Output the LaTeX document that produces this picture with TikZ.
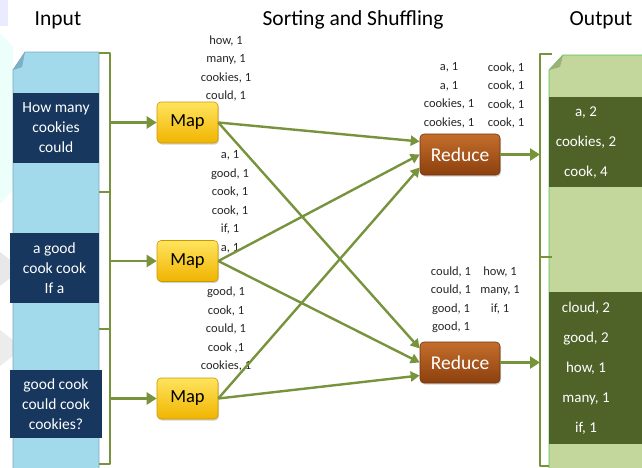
\documentclass[tikz,border=0pt]{standalone}
\usepackage{fontspec}
\setmainfont{Carlito}
\usetikzlibrary{arrows.meta,calc,shadows}

\definecolor{linegreen}{HTML}{77933C}
\definecolor{docblue}{HTML}{A2D9EB}
\definecolor{docblueedge}{HTML}{7FA8C0}
\definecolor{foldblue}{HTML}{7DAFC6}
\definecolor{navy}{HTML}{17375E}
\definecolor{docgreen}{HTML}{C3D69B}
\definecolor{docgreenedge}{HTML}{55C553}
\definecolor{foldgreen}{HTML}{9DB07A}
\definecolor{olive}{HTML}{4F6228}
\definecolor{labelgrey}{HTML}{262626}
\definecolor{maptop}{HTML}{FFE45E}
\definecolor{mapmid}{HTML}{FFCC00}
\definecolor{mapbot}{HTML}{F0B400}
\definecolor{mapedge}{HTML}{C99A00}
\definecolor{redtop}{HTML}{C46E2C}
\definecolor{redmid}{HTML}{A34F14}
\definecolor{redbot}{HTML}{8C400E}
\definecolor{reduceedge}{HTML}{6E340A}

\tikzset{
  heading/.style={font=\fontsize{21.5}{24}\selectfont, text=black, inner sep=0pt},
  inbox/.style={fill=navy, text=white, align=center, inner sep=0pt,
                font=\fontsize{15.5}{20}\selectfont},
  outtext/.style={text=white, align=center, inner sep=0pt,
                  font=\fontsize{15}{30}\selectfont},
  mapbox/.style={rounded corners=4pt, draw=mapedge, line width=0.6pt,
                 top color=maptop, middle color=mapmid, bottom color=mapbot,
                 minimum width=61pt, minimum height=41pt, inner sep=0pt,
                 font=\fontsize{18.5}{20}\selectfont, text=black,
                 drop shadow={opacity=0.35, shadow xshift=1pt, shadow yshift=-1.5pt}},
  reducebox/.style={rounded corners=4pt, draw=reduceedge, line width=0.6pt,
                 top color=redtop, middle color=redmid, bottom color=redbot,
                 minimum width=80pt, minimum height=41pt, inner sep=0pt,
                 font=\fontsize{19.5}{20}\selectfont, text=white,
                 drop shadow={opacity=0.35, shadow xshift=1pt, shadow yshift=-1.5pt}},
  pairs/.style={align=center, inner sep=0pt, text=labelgrey,
                font=\fontsize{12.5}{18.5}\selectfont},
  bracket/.style={draw=linegreen, line width=2.6pt, line join=round},
  feed/.style={draw=linegreen, line width=2.6pt,
               -{Triangle[length=10pt,width=12pt]}},
  flow/.style={draw=linegreen, line width=2.4pt,
               -{Triangle[length=9pt,width=10pt]}},
}

\begin{document}
\begin{tikzpicture}[x=1pt,y=-1pt]
\useasboundingbox (0,0) rectangle (642,467);
\clip (0,0) rectangle (642,467);

% faint backdrop shapes along the left edge
\fill[blue!8] (0,0) -- (8,0) -- (8,26) -- (0,26) -- cycle;
\fill[green!25!cyan!7] (0,33) -- (13,46) -- (13,190) -- (0,204) -- cycle;
\fill[gray!18] (0,252) -- (13,262) -- (13,276) -- (0,286) -- cycle;
\fill[gray!15] (0,330) -- (13,340) -- (13,356) -- (0,366) -- cycle;

% headings
\node[heading] (tin)   at (58,20)  {Input};
\node[heading] (tsort) at (353,20) {Sorting and Shuffling};
\node[heading] (tout)  at (601,20) {Output};

% input document with folded corner
\filldraw[fill=docblue, draw=docblueedge, line width=0.8pt]
  (13,70) -- (25,52) -- (99,52) -- (99,475) -- (13,475) -- cycle;
\fill[foldblue] (13,70) -- (25,52) -- (22,67) -- cycle;

% input splits
\fill[navy] (13,93) rectangle (99,163);
\node[inbox] (in1) at (56,128) {How many\\cookies\\could};
\fill[navy] (10,233) rectangle (99,303);
\node[inbox] (in2) at (54.5,268) {a good\\cook cook\\If a};
\fill[navy] (10,370) rectangle (102,438);
\node[inbox] (in3) at (56,404) {good cook\\could cook\\cookies?};

% input bracket
\draw[bracket] (99,53) -- (110,53) -- (110,464) -- (99,464);
\draw[bracket] (99,192) -- (110,192);
\draw[bracket] (99,329) -- (110,329);
\coordinate (b1) at (110,122.5);
\coordinate (b2) at (110,261);
\coordinate (b3) at (110,398.5);

% map tasks
\node[mapbox] (m1) at (187.5,122.5) {Map};
\node[mapbox] (m2) at (187.5,261)   {Map};
\node[mapbox] (m3) at (187.5,398.5) {Map};

\draw[feed] (b1) -- (m1.west);
\draw[feed] (b2) -- (m2.west);
\draw[feed] (b3) -- (m3.west);

% intermediate key/value pairs
\node[pairs] (k1) at (226,68.5) {how, 1\\many, 1\\cookies, 1\\could, 1};
\node[pairs] (k2) at (230,202)  {a, 1\\good, 1\\cook, 1\\cook, 1\\if, 1\\a, 1};
\node[pairs] (k3) at (226,329)  {good, 1\\cook, 1\\could, 1\\cook ,1\\cookies, 1};
\node[pairs] (k4) at (449,95.5) {a, 1\\a, 1\\cookies, 1\\cookies, 1};
\node[pairs] (k5) at (506,95.5) {cook, 1\\cook, 1\\cook, 1\\cook, 1};
\node[pairs] (k6) at (451,299.5) {could, 1\\could, 1\\good, 1\\good, 1};
\node[pairs] (k7) at (500,290)  {how, 1\\many, 1\\if, 1};

% reduce tasks
\node[reducebox] (r1) at (460,154.5) {Reduce};
\node[reducebox] (r2) at (460,362.5) {Reduce};

% shuffle connections
\draw[flow] (m1.east) -- ($(r1.west)+(0,-13)$);
\draw[flow] (m2.east) -- (r1.west);
\draw[flow] (m3.east) -- ($(r1.west)+(0,13)$);
\draw[flow] (m1.east) -- ($(r2.west)+(0,-14)$);
\draw[flow] (m2.east) -- (r2.west);
\draw[flow] (m3.east) -- ($(r2.west)+(0,13)$);

% output document with folded corner
\filldraw[fill=docgreen, draw=docgreenedge, line width=0.9pt]
  (549,70) -- (563,55) -- (650,55) -- (650,475) -- (549,475) -- cycle;
\fill[foldgreen] (549,70) -- (563,55) -- (560,67) -- cycle;

\fill[olive] (549,97) rectangle (650,187);
\node[outtext] (o1) at (586,143) {a, 2\\cookies, 2\\cook, 4};
\fill[olive] (549,292) rectangle (650,444);
\node[outtext] (o2) at (586,368) {cloud, 2\\good, 2\\how, 1\\many, 1\\if, 1};

% output bracket
\draw[bracket] (552,54) -- (540,54) -- (540,466) -- (549,466);
\draw[bracket] (540,257) -- (552,257);
\coordinate (ob1) at (540,154.5);
\coordinate (ob2) at (540,362.5);

\draw[feed] (r1.east) -- (ob1);
\draw[feed] (r2.east) -- (ob2);
\end{tikzpicture}
\end{document}
